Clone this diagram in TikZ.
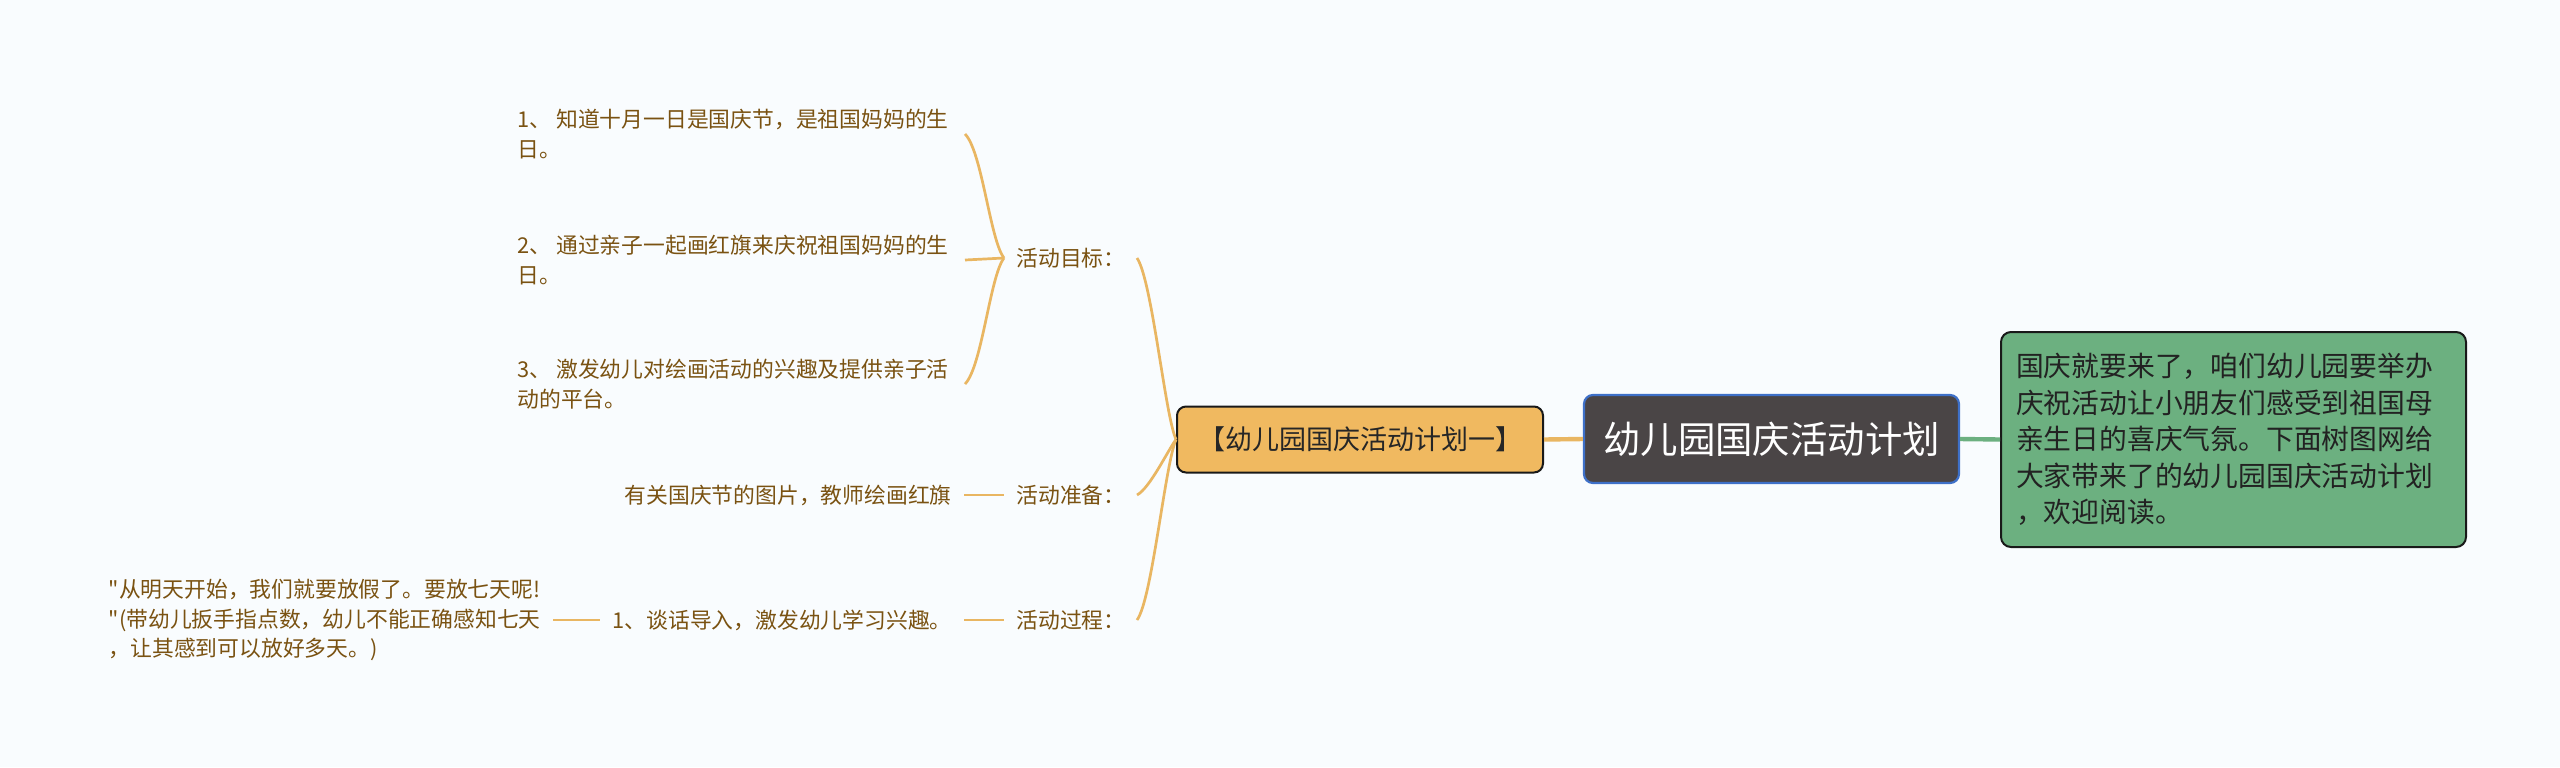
\documentclass[tikz,border=0pt]{standalone}
\usepackage{fontspec}
\setmainfont{Noto Sans CJK SC}[Ligatures=TeXOff]
\definecolor{bgc}{RGB}{249,252,254}
\definecolor{leafbrown}{RGB}{122,82,18}
\definecolor{linkor}{RGB}{233,182,98}
\definecolor{subfill}{RGB}{240,185,96}
\definecolor{rootfill}{RGB}{74,69,70}
\definecolor{rootborder}{RGB}{62,112,200}
\definecolor{descfill}{RGB}{108,176,128}
\definecolor{desctext}{RGB}{34,34,34}
\tikzset{
  leaf/.style={font=\fontsize{10.9pt}{14.7pt}\selectfont, text=leafbrown, inner ysep=0pt, inner xsep=8pt, align=left},
  lbl/.style={font=\fontsize{10.9pt}{14.7pt}\selectfont, text=leafbrown, inner ysep=0pt, inner xsep=6pt},
  link/.style={draw=linkor, line width=1.35pt},
  mainlink/.style={draw=linkor, line width=2.2pt},
  greenlink/.style={draw=descfill, line width=2.2pt},
  rootbox/.style={draw=rootborder, line width=1.1pt, fill=rootfill, rounded corners=4.5pt, text=white,
    font=\fontsize{18.7pt}{22pt}\selectfont, minimum width=187.5pt, minimum height=44pt, inner sep=0pt},
  subbox/.style={draw=black!90, line width=1pt, fill=subfill, rounded corners=4.5pt, text=black!85,
    font=\fontsize{13.5pt}{16pt}\selectfont, minimum width=183pt, minimum height=33pt, inner sep=0pt},
  descbox/.style={draw=black!90, line width=1pt, fill=descfill, rounded corners=5pt, text=desctext,
    font=\fontsize{13.9pt}{18.3pt}\selectfont, minimum height=107.5pt, text width=217.5pt,
    inner xsep=7.5pt, inner ysep=0pt, align=left}
}
\begin{document}
\begin{tikzpicture}[x=0.5pt,y=-0.5pt]
\fill[bgc] (0,0) rectangle (2560,767);
\useasboundingbox (0,0) rectangle (2560,767);

\node[rootbox] (root) at (1771.5,439) {幼儿园国庆活动计划};
\node[subbox] (sub) at (1360,439.5) {【幼儿园国庆活动计划一】};
\node[descbox, anchor=west] (desc) at (2000,439.5) {国庆就要来了，咱们幼儿园要举办\\庆祝活动让小朋友们感受到祖国母\\亲生日的喜庆气氛。下面树图网给\\大家带来了的幼儿园国庆活动计划\\，欢迎阅读。};

\draw[mainlink] (sub.east) -- (root.west);
\draw[greenlink] (root.east) -- (desc.west);

% labels
\node[lbl, anchor=west] (goal) at (1004,258) {活动目标：};
\node[lbl, anchor=west] (prep) at (1004,495) {活动准备：};
\node[lbl, anchor=west] (proc) at (1004,620) {活动过程：};

\draw[link] (sub.west) .. controls (1165,415) and (1152,280) .. ([xshift=66.5pt]goal.west);
\draw[link] (sub.west) .. controls (1168,450) and (1150,488) .. ([xshift=66.5pt]prep.west);
\draw[link] (sub.west) .. controls (1165,465) and (1152,600) .. ([xshift=66.5pt]proc.west);

% goal items
\node[leaf, anchor=east] (g1) at (965,134) {1、 知道十月一日是国庆节，是祖国妈妈的生\\日。};
\node[leaf, anchor=east] (g2) at (965,260) {2、 通过亲子一起画红旗来庆祝祖国妈妈的生\\日。};
\node[leaf, anchor=east] (g3) at (965,384) {3、 激发幼儿对绘画活动的兴趣及提供亲子活\\动的平台。};

\draw[link] (goal.west) .. controls (990,240) and (982,151) .. (g1.east);
\draw[link] (goal.west) -- (g2.east);
\draw[link] (goal.west) .. controls (990,276) and (982,367) .. (g3.east);

% preparation
\node[lbl, anchor=east] (p1) at (964,495) {有关国庆节的图片，教师绘画红旗};
\draw[link] (p1.east) -- (prep.west);

% process
\node[lbl, anchor=east] (r1) at (964,620) {1、谈话导入，激发幼儿学习兴趣。};
\draw[link] (r1.east) -- (proc.west);
\node[leaf, inner xsep=6pt, anchor=east] (r2) at (553,620) {"从明天开始，我们就要放假了。要放七天呢!\\"(带幼儿扳手指点数，幼儿不能正确感知七天\\，让其感到可以放好多天。)};
\draw[link] (r2.east) -- (r1.west);
\end{tikzpicture}
\end{document}
